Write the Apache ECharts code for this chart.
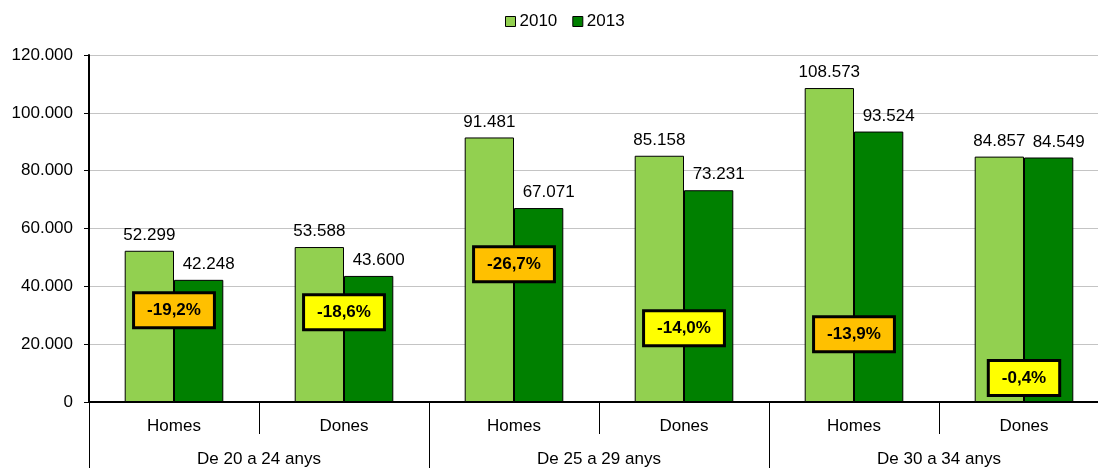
<!DOCTYPE html>
<html>
<head>
<meta charset="utf-8">
<script src="https://cdn.jsdelivr.net/npm/echarts@6/dist/echarts.min.js"></script>
<style>
    html, body {margin: 0; padding: 0; background: #fff; overflow: hidden;}
    #chart {width: 1110px; height: 468px;}
</style>
</head>
<body>
<div id="chart"></div>
<script>
// dades
var sexes = ['Homes', 'Dones', 'Homes', 'Dones', 'Homes', 'Dones'];
var groups = ['De 20 a 24 anys', 'De 25 a 29 anys', 'De 30 a 34 anys'];
var years = ['2010', '2013'];
var values2010 = [52299, 53588, 91481, 85158, 108573, 84857];
var values2013 = [42248, 43600, 67071, 73231, 93524, 84549];
// height of the % change boxes, in axis units
var changeBoxY = [31700, 31000, 47600, 25500, 23400, 8300];

var FONT = '"Liberation Sans", Arial, sans-serif';

function fmt(v) {
    return String(v).replace(/\B(?=(\d{3})+(?!\d))/g, '.');
}

function pct(i) {
    var p = (values2013[i] - values2010[i]) / values2010[i] * 100;
    return p.toFixed(1).replace('.', ',') + '%';
}

var boxData = changeBoxY.map(function (y, i) {
    return {
        value: [i, y],
        label: {backgroundColor: sexes[i] === 'Homes' ? '#ffc000' : '#ffff00'}
    };
});

var chart = echarts.init(document.getElementById('chart'));

var option = {
    animation: false,
    textStyle: {fontFamily: FONT},
    legend: {
        data: years,
        top: 8,
        left: 500,
        itemWidth: 10,
        itemHeight: 10,
        itemGap: 15,
        icon: 'rect',
        itemStyle: {borderColor: '#000', borderWidth: 1},
        textStyle: {fontSize: 17, color: '#000', fontFamily: FONT, padding: [0, 0, 0, -1]}
    },
    grid: {left: 89, top: 55, width: 1020, bottom: 65, containLabel: false},
    xAxis: [
        {
            type: 'category',
            data: sexes,
            position: 'bottom',
            axisLine: {lineStyle: {color: '#000', width: 2}},
            axisTick: {show: true, interval: 0, length: 32, lineStyle: {color: '#000', width: 1}},
            axisLabel: {interval: 0, fontSize: 17, color: '#000', margin: 16, fontFamily: FONT}
        },
        {
            type: 'category',
            data: groups,
            position: 'bottom',
            axisLine: {show: false},
            axisTick: {show: true, interval: 0, length: 70, lineStyle: {color: '#000', width: 1}},
            axisLabel: {interval: 0, fontSize: 17, color: '#000', margin: 49, fontFamily: FONT}
        }
    ],
    yAxis: {
        type: 'value',
        min: 0,
        max: 120000,
        interval: 20000,
        axisLine: {show: true, lineStyle: {color: '#000', width: 2}},
        axisTick: {show: true, length: 5, lineStyle: {color: '#000', width: 1}},
        axisLabel: {fontSize: 17, color: '#000', margin: 16, fontFamily: FONT, formatter: fmt},
        splitLine: {lineStyle: {color: '#c4c4c4', width: 1}}
    },
    series: [
        {
            name: '2010',
            type: 'bar',
            data: values2010,
            barGap: '0%',
            barCategoryGap: '42%',
            itemStyle: {color: '#92d050', borderColor: '#000', borderWidth: 1},
            label: {
                show: true, position: 'top', distance: 7,
                fontSize: 17, color: '#000', fontFamily: FONT,
                formatter: function (p) { return fmt(p.value); }
            }
        },
        {
            name: '2013',
            type: 'bar',
            data: values2013,
            itemStyle: {color: '#008000', borderColor: '#000', borderWidth: 1},
            label: {
                show: true, position: 'top', distance: 7, offset: [10, 0],
                fontSize: 17, color: '#000', fontFamily: FONT,
                formatter: function (p) { return fmt(p.value); }
            }
        },
        {
            name: 'canvi',
            type: 'scatter',
            data: boxData,
            symbolSize: 0,
            z: 10,
            silent: true,
            itemStyle: {opacity: 1},
            label: {
                show: true,
                position: 'inside',
                fontSize: 17,
                fontWeight: 'bold',
                color: '#000',
                fontFamily: FONT,
                borderColor: '#000',
                borderWidth: 3,
                padding: [8, 12, 7, 12],
                formatter: function (p) { return pct(p.dataIndex); }
            }
        }
    ]
};

chart.setOption(option);
</script>
</body>
</html>
